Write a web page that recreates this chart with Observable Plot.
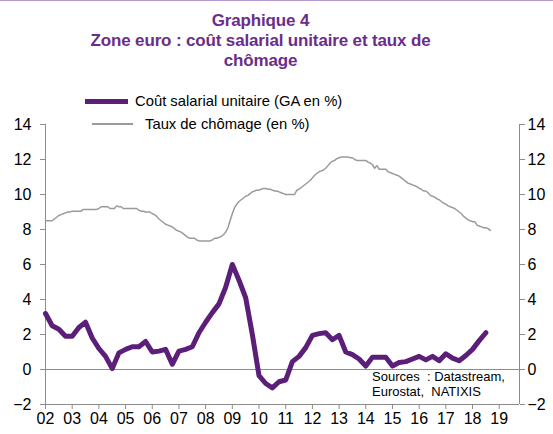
<!DOCTYPE html>
<html><head><meta charset="utf-8">
<script src="https://cdn.jsdelivr.net/npm/d3@7"></script>
<script src="https://cdn.jsdelivr.net/npm/@observablehq/plot@0.6"></script>
<style>
body{margin:0;background:#fff;font-family:"Liberation Sans",Arial,sans-serif;}
#wrap{position:relative;width:553px;height:434px;overflow:hidden;background:#fff;}
#topline{position:absolute;left:0;top:0;width:553px;height:1px;background:#b79ad0;}
#title{position:absolute;left:0;top:11px;width:521px;text-align:center;font-weight:bold;font-size:17px;line-height:20px;color:#6B2D8B;letter-spacing:-0.15px;}
#chart{position:absolute;left:0;top:80px;}
.leg{position:absolute;font-size:14.8px;line-height:16px;color:#000;white-space:nowrap;}
.src{position:absolute;font-size:13px;line-height:15px;color:#000;white-space:nowrap;}
</style></head>
<body>
<div id="wrap">
  <div id="topline"></div>
  <div id="title">Graphique 4<br>Zone euro : coût salarial unitaire et taux de<br>chômage</div>
  <div id="chart"></div>
  <div style="position:absolute;left:85px;top:99px;width:43px;height:5px;background:#5B1F7A;"></div>
  <div class="leg" style="left:135px;top:93px;">Coût salarial unitaire (GA en %)</div>
  <div style="position:absolute;left:92px;top:123px;width:41px;height:1.5px;background:#9a9a9a;"></div>
  <div class="leg" style="left:145px;top:116px;">Taux de chômage (en %)</div>
  <div class="src" style="left:372px;top:369px;">Sources&nbsp; : Datastream,<br>Eurostat,&nbsp; NATIXIS</div>
</div>
<script>
// Tick values
const yearTicks = [2002,2003,2004,2005,2006,2007,2008,2009,2010,2011,2012,2013,2014,2015,2016,2017,2018,2019];
const yTicks = [-2,0,2,4,6,8,10,12,14];
const xStart = 2002, xEnd = 2019.76;

// Coût salarial unitaire, GA en %, quarterly from 2002 Q1
const ulcValues = [
  3.2, 2.5, 2.3, 1.9,
  1.9, 2.4, 2.7, 1.8,
  1.2, 0.75, 0.05, 0.95,
  1.15, 1.3, 1.3, 1.6,
  1.0, 1.05, 1.15, 0.3,
  1.05, 1.15, 1.3, 2.1,
  2.7, 3.25, 3.75, 4.7,
  6.0, 5.1, 4.1, 2.0,
  -0.35, -0.8, -1.05, -0.7,
  -0.6, 0.45, 0.75, 1.25,
  1.95, 2.05, 2.1, 1.7,
  1.95, 1.0, 0.85, 0.6,
  0.2, 0.7, 0.7, 0.7,
  0.2, 0.4, 0.45, 0.6,
  0.75, 0.55, 0.75, 0.5,
  0.9, 0.65, 0.5, 0.8,
  1.15, 1.65, 2.1
];

// Taux de chômage, en %, monthly from 2002-01
const unempValues = [
  8.5, 8.5, 8.5, 8.5, 8.6, 8.7, 8.8, 8.85, 8.9, 8.95, 9.0, 9.0,
  9.05, 9.05, 9.05, 9.05, 9.05, 9.15, 9.15, 9.15, 9.15, 9.15, 9.15, 9.15,
  9.2, 9.3, 9.3, 9.3, 9.3, 9.2, 9.2, 9.2, 9.35, 9.3, 9.3, 9.2,
  9.2, 9.2, 9.2, 9.2, 9.2, 9.2, 9.1, 9.05, 9.05, 9.0, 9.0, 9.0,
  8.9, 8.85, 8.75, 8.6, 8.5, 8.4, 8.3, 8.25, 8.2, 8.15, 8.05, 7.95,
  7.9, 7.85, 7.75, 7.65, 7.55, 7.5, 7.5, 7.5, 7.4, 7.35, 7.35, 7.35,
  7.35, 7.35, 7.35, 7.4, 7.5, 7.5, 7.55, 7.6, 7.7, 7.85, 8.1, 8.5,
  8.9, 9.25, 9.45, 9.6, 9.7, 9.8, 9.9, 9.95, 10.05, 10.15, 10.2, 10.25,
  10.25, 10.3, 10.35, 10.35, 10.3, 10.3, 10.25, 10.2, 10.2, 10.15, 10.1, 10.05,
  10.0, 10.0, 10.0, 10.0, 10.0, 10.25, 10.3, 10.4, 10.5, 10.6, 10.7, 10.8,
  10.95, 11.1, 11.2, 11.3, 11.35, 11.4, 11.5, 11.65, 11.8, 11.9, 11.95, 12.05,
  12.1, 12.15, 12.15, 12.15, 12.15, 12.1, 12.1, 12.0, 11.95, 11.95, 11.95, 11.95,
  11.95, 11.85, 11.8, 11.7, 11.5, 11.65, 11.45, 11.45, 11.45, 11.45, 11.3, 11.25,
  11.2, 11.15, 11.1, 11.05, 10.95, 10.85, 10.75, 10.65, 10.6, 10.55, 10.5, 10.45,
  10.35, 10.3, 10.2, 10.2, 10.1, 9.95, 9.9, 9.85, 9.75, 9.7, 9.6, 9.5,
  9.45, 9.35, 9.3, 9.25, 9.2, 9.1, 9.0, 8.9, 8.75, 8.65, 8.55, 8.5,
  8.45, 8.45, 8.25, 8.2, 8.15, 8.1, 8.1, 8.05, 7.95
];

const ulc = ulcValues.map((v, i) => ({t: xStart + i / 4, v}));
const unemp = unempValues.map((v, i) => ({t: xStart + i / 12, v}));

const axisColor = "#8c8c8c";
const chart = Plot.plot({
  width: 553,
  height: 354,
  marginTop: 44,
  marginBottom: 30,
  marginLeft: 45,
  marginRight: 34,
  style: {fontFamily: "'Liberation Sans', Arial, sans-serif", fontSize: "16px", background: "transparent", color: "#000"},
  x: {domain: [xStart, xEnd]},
  y: {domain: [-2, 14]},
  marks: [
    Plot.ruleY([0], {stroke: axisColor, strokeWidth: 1}),
    Plot.ruleY([-2], {stroke: axisColor, strokeWidth: 1}),
    Plot.ruleX([xStart, xEnd], {stroke: axisColor, strokeWidth: 1}),
    Plot.axisY({anchor: "left", ticks: yTicks, tickSize: 5, tickPadding: 9, stroke: axisColor, fill: "#000", fontSize: 16, label: null}),
    Plot.axisY({anchor: "right", ticks: yTicks, tickSize: 5, tickPadding: 3, stroke: axisColor, fill: "#000", fontSize: 16, label: null}),
    Plot.axisX({ticks: yearTicks, tickFormat: d => String(d).slice(2), tickSize: 5, tickPadding: 3, stroke: axisColor, fill: "#000", fontSize: 16, label: null}),
    Plot.line(unemp, {x: "t", y: "v", stroke: "#9a9a9a", strokeWidth: 1.5}),
    Plot.line(ulc, {x: "t", y: "v", stroke: "#5B1F7A", strokeWidth: 5})
  ]
});
document.getElementById("chart").appendChild(chart);
</script>
</body></html>
